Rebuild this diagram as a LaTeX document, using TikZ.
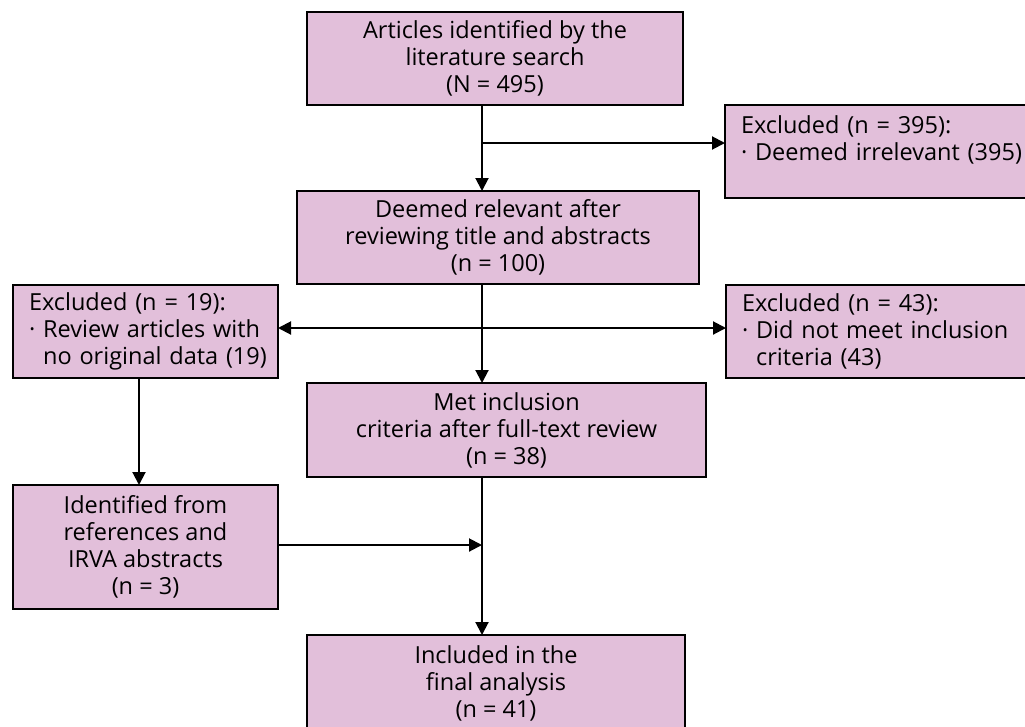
\documentclass[tikz,border=0pt]{standalone}
\usepackage{fontspec}
\setmainfont{Open Sans}
\usetikzlibrary{arrows.meta}
\definecolor{boxpink}{RGB}{226,191,218}
\begin{document}
\begin{tikzpicture}[x=1pt,y=-1pt,
  box/.style={draw=black, line width=2pt, fill=boxpink, inner sep=0pt, outer sep=0pt,
    align=center, font=\fontsize{23.5}{27}\selectfont, anchor=north west},
  lbox/.style={box, align=left, inner xsep=16pt},
  conn/.style={line width=2pt, -{Triangle[length=13pt,width=13pt]}}]
\clip (0,0) rectangle (1025,726);
\fill[white] (0,0) rectangle (1025,726);
% boxes
\node[box, minimum width=376pt, minimum height=93pt] (b1) at (307,12)
  {Articles identified by the\\literature search\\(N = 495)};
\node[lbox, minimum width=330pt, minimum height=93pt, text width=298pt] (ex395) at (725,105)
  {\mbox{Excluded (n = 395):}\\\mbox{\textperiodcentered\ Deemed irrelevant (395)}\\\mbox{}};
\node[box, minimum width=402pt, minimum height=93pt] (rel) at (297,191)
  {Deemed relevant after\\reviewing title and abstracts\\(n = 100)};
\node[lbox, minimum width=265pt, minimum height=93pt, text width=233pt] (ex19) at (13,285)
  {\mbox{Excluded (n = 19):}\\\mbox{\textperiodcentered\ Review articles with}\\\mbox{\phantom{\textperiodcentered\ }no original data (19)}};
\node[lbox, minimum width=330pt, minimum height=93pt, text width=298pt] (ex43) at (726,285)
  {\mbox{Excluded (n = 43):}\\\mbox{\textperiodcentered\ Did not meet inclusion}\\\mbox{\phantom{\textperiodcentered\ }criteria (43)}};
\node[box, minimum width=399pt, minimum height=94pt] (met) at (307,383)
  {Met inclusion\\criteria after full-text review\\(n = 38)};
\node[box, minimum width=265pt, minimum height=124pt] (id) at (13,485)
  {Identified from\\references and\\IRVA abstracts\\(n = 3)};
\node[box, minimum width=378pt, minimum height=96pt] (inc) at (307,635)
  {Included in the\\final analysis\\(n = 41)};
% junctions
\coordinate (j1) at (482,143);
\coordinate (j2) at (482,328);
\coordinate (j3) at (482,545);
\coordinate (c19) at (139,0);
% connectors
\draw[conn] (b1.south -| j1) -- (rel.north -| j1);
\draw[conn] (j1) -- (j1 -| ex395.west);
\draw[conn] (rel.south -| j2) -- (met.north -| j2);
\draw[conn] (j2) -- (j2 -| ex19.east);
\draw[conn] (j2) -- (j2 -| ex43.west);
\draw[conn] (ex19.south -| c19) -- (id.north -| c19);
\draw[conn] (met.south -| j2) -- (inc.north -| j2);
\draw[conn] (id.east |- j3) -- (j3);
\end{tikzpicture}
\end{document}
